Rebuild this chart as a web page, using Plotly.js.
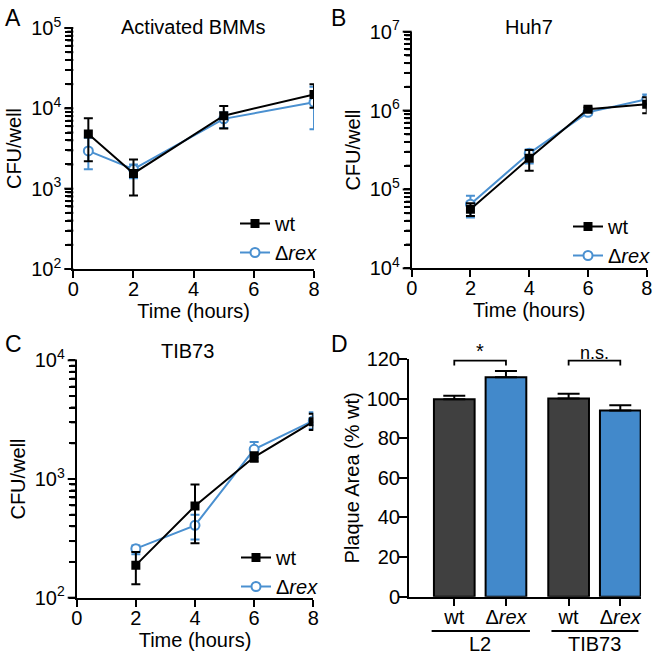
<!DOCTYPE html>
<html>
<head>
<meta charset="utf-8">
<script src="https://cdn.plot.ly/plotly-3.0.1.min.js"></script>
<style>html,body{margin:0;padding:0;background:#fff}#chart{width:656px;height:656px}</style>
</head>
<body>
<div id="chart"></div>
<script>
// ---------- DATA ----------
// Panel A: Activated BMMs
const timeA = [0.5, 2, 5, 8];
const wtA = [4800, 1550, 8100, 14900];
const wtA_hi = [7500, 2300, 10700, 20000];
const wtA_lo = [2200, 820, 5600, 10200];
const rexA = [2950, 1750, 7400, 11900];
const rexA_hi = [4300, 2000, 8900, 18500];
const rexA_lo = [1750, 1350, 5700, 5500];

// Panel B: Huh7
const timeB = [2, 4, 6, 8];
const wtB = [56000, 248000, 1040000, 1200000];
const wtB_hi = [67000, 316000, 1090000, 1470000];
const wtB_lo = [46000, 172000, 990000, 925000];
const rexB = [65000, 287000, 950000, 1390000];
const rexB_hi = [83000, 320000, 1020000, 1600000];
const rexB_lo = [44000, 213000, 880000, 1200000];

// Panel C: TIB73
const timeC = [2, 4, 6, 8];
const wtC = [188, 593, 1530, 3040];
const wtC_hi = [243, 900, 1680, 3550];
const wtC_lo = [130, 287, 1400, 2590];
const rexC = [259, 407, 1780, 3100];
const rexC_hi = [275, 500, 2050, 3650];
const rexC_lo = [232, 310, 1510, 2650];

// Panel D: Plaque area
const groupsD = ['L2', 'TIB73'];
const wtD = [99.7, 100.0];
const wtD_err = [1.8, 2.5];
const rexD = [110.8, 94.0];
const rexD_err = [3.2, 2.6];
const sigD = ['*', 'n.s.'];

const seriesNames = ['wt', 'Δ<i>rex</i>'];
const titles = ['Activated BMMs', 'Huh7', 'TIB73'];
const panelLetters = ['A', 'B', 'C', 'D'];

// ---------- STYLE ----------
const FONT = 'Liberation Sans, Arial, Helvetica, sans-serif';
const BLACK = '#000000';
const BLUE_LINE = '#4a90d0';
const GRAY_BAR = '#404040';
const BLUE_BAR = '#4289cb';
const S = 656;
const px = p => p / S;
const py = p => 1 - p / S;

function lineTraces(t, wt, wtHi, wtLo, rex, rexHi, rexLo, xa, ya, leg) {
  const up = (v, h) => h.map((x, i) => x - v[i]);
  const dn = (v, l) => l.map((x, i) => v[i] - x);
  return [
    {
      x: t, y: rex, xaxis: xa, yaxis: ya, type: 'scatter', mode: 'lines+markers',
      name: seriesNames[1], legend: leg, legendrank: 2,
      line: {color: BLUE_LINE, width: 2},
      marker: {symbol: 'circle', size: 9, color: '#ffffff', line: {color: BLUE_LINE, width: 2}},
      error_y: {type: 'data', symmetric: false, array: up(rex, rexHi), arrayminus: dn(rex, rexLo),
        color: BLUE_LINE, thickness: 2, width: 4.5}
    },
    {
      x: t, y: wt, xaxis: xa, yaxis: ya, type: 'scatter', mode: 'lines+markers',
      name: seriesNames[0], legend: leg, legendrank: 1,
      line: {color: BLACK, width: 2},
      marker: {symbol: 'square', size: 9, color: BLACK},
      error_y: {type: 'data', symmetric: false, array: up(wt, wtHi), arrayminus: dn(wt, wtLo),
        color: BLACK, thickness: 2, width: 4.5}
    }
  ];
}

const traces = [
  ...lineTraces(timeA, wtA, wtA_hi, wtA_lo, rexA, rexA_hi, rexA_lo, 'x', 'y', 'legend'),
  ...lineTraces(timeB, wtB, wtB_hi, wtB_lo, rexB, rexB_hi, rexB_lo, 'x2', 'y2', 'legend2'),
  ...lineTraces(timeC, wtC, wtC_hi, wtC_lo, rexC, rexC_hi, rexC_lo, 'x3', 'y3', 'legend3')
];

// Panel D bars (numeric positions derived from group index)
const OFF = 0.226, BW = 0.356;
const xWt = groupsD.map((g, i) => i - OFF);
const xRex = groupsD.map((g, i) => i + OFF);
traces.push({
  type: 'bar', x: xWt, y: wtD, width: BW, xaxis: 'x4', yaxis: 'y4', showlegend: false, name: 'wt',
  marker: {color: GRAY_BAR, line: {color: BLACK, width: 2}},
  error_y: {type: 'data', symmetric: false, array: wtD_err, arrayminus: wtD.map(() => 0), color: BLACK, thickness: 2, width: 11}
});
traces.push({
  type: 'bar', x: xRex, y: rexD, width: BW, xaxis: 'x4', yaxis: 'y4', showlegend: false, name: 'Δrex',
  marker: {color: BLUE_BAR, line: {color: BLACK, width: 2}},
  error_y: {type: 'data', symmetric: false, array: rexD_err, arrayminus: rexD.map(() => 0), color: BLACK, thickness: 2, width: 11}
});

const tickFont = {family: FONT, size: 20, color: BLACK};
function timeAxis(dom, anchor) {
  return {
    domain: dom, anchor: anchor, range: [0, 8], dtick: 2, tick0: 0,
    showline: true, linewidth: 2, linecolor: BLACK, showgrid: false, zeroline: false,
    ticks: 'outside', ticklen: 7, tickwidth: 2, tickcolor: BLACK, tickfont: tickFont,
    ticklabelstandoff: -6,
    title: {text: 'Time (hours)', font: {family: FONT, size: 20, color: BLACK}, standoff: 4}
  };
}
// Log-axis ticks: decades labelled 10^k, digits 2..9 unlabelled
function logTicks(r) {
  const vals = [], text = [];
  for (let k = r[0]; k <= r[1]; k++) {
    vals.push(Math.pow(10, k)); text.push('10<sup>' + k + '</sup>');
    if (k < r[1]) for (let d = 2; d <= 9; d++) { vals.push(d * Math.pow(10, k)); text.push(''); }
  }
  return {vals, text};
}
function logAxis(dom, anchor, r) {
  const t = logTicks(r);
  return {
    domain: dom, anchor: anchor, type: 'log', range: r,
    tickmode: 'array', tickvals: t.vals, ticktext: t.text,
    showline: true, linewidth: 2, linecolor: BLACK, showgrid: false, zeroline: false,
    ticks: 'outside', ticklen: 6, tickwidth: 2, tickcolor: BLACK, tickfont: tickFont,
    ticklabelstandoff: 0,
    title: {text: 'CFU/well', font: {family: FONT, size: 20, color: BLACK}, standoff: 4}
  };
}

const tickvalsD = [];
const ticktextD = [];
groupsD.forEach((g, i) => {
  tickvalsD.push(xWt[i], xRex[i]);
  ticktextD.push(seriesNames[0], seriesNames[1]);
});

const legendBase = {
  font: {family: FONT, size: 20, color: BLACK}, bgcolor: 'rgba(0,0,0,0)',
  xanchor: 'left', yanchor: 'top', tracegroupgap: 0, itemwidth: 30
};

const logRanges = [[2, 5], [4, 7], [2, 4]];
const logDomX = [[px(73.3), px(314)], [px(411.7), px(646.7)], [px(76.7), px(313.3)]];
const logDomY = [[py(269), py(28)], [py(268.3), py(31.7)], [py(597.7), py(360.3)]];

const layout = {
  width: 656, height: 656,
  margin: {l: 0, r: 0, t: 0, b: 0},
  paper_bgcolor: '#ffffff', plot_bgcolor: '#ffffff',
  font: {family: FONT, size: 20, color: BLACK},
  barmode: 'overlay',
  xaxis: timeAxis(logDomX[0], 'y'),
  yaxis: logAxis(logDomY[0], 'x', logRanges[0]),
  xaxis2: timeAxis(logDomX[1], 'y2'),
  yaxis2: logAxis(logDomY[1], 'x2', logRanges[1]),
  xaxis3: timeAxis(logDomX[2], 'y3'),
  yaxis3: logAxis(logDomY[2], 'x3', logRanges[2]),
  xaxis4: {
    domain: [px(409), px(641)], anchor: 'y4', range: [-0.622, 1.407],
    showline: true, linewidth: 2, linecolor: BLACK, showgrid: false, zeroline: false,
    tickmode: 'array', tickvals: tickvalsD, ticktext: ticktextD,
    ticks: 'outside', ticklen: 7, tickwidth: 2, tickcolor: BLACK, tickfont: tickFont,
    ticklabelstandoff: -6
  },
  yaxis4: {
    domain: [py(596.7), py(359)], anchor: 'x4', range: [0, 120], dtick: 20,
    showline: true, linewidth: 2, linecolor: BLACK, showgrid: false, zeroline: false,
    ticks: 'outside', ticklen: 8, tickwidth: 2, tickcolor: BLACK, tickfont: tickFont,
    ticklabelstandoff: -5,
    title: {text: 'Plaque Area (% wt)', font: {family: FONT, size: 20, color: BLACK}, standoff: 2}
  },
  legend: Object.assign({}, legendBase, {x: px(235), y: py(204)}),
  legend2: Object.assign({}, legendBase, {x: px(568), y: py(207)}),
  legend3: Object.assign({}, legendBase, {x: px(236), y: py(538)}),
  annotations: [],
  shapes: []
};

// Tick marks on the log axes drawn as shapes too: decades 9px, digits 2..9 6px
logRanges.forEach((r, p) => {
  const xd = logDomX[p], yd = logDomY[p];
  for (let k = r[0]; k <= r[1]; k++) {
    for (let d = 1; d <= (k < r[1] ? 9 : 1); d++) {
      const f = (Math.log10(d) + k - r[0]) / (r[1] - r[0]);
      const yp = yd[0] + f * (yd[1] - yd[0]);
      const len = d === 1 ? 9 : 6;
      layout.shapes.push({type: 'line', xref: 'paper', yref: 'paper', layer: 'above',
        x0: xd[0] - len / S, x1: xd[0], y0: yp, y1: yp, line: {color: BLACK, width: 2}});
    }
  }
});

// Panel letters
const letterPos = [[3, 3], [329, 3], [3, 329], [329, 329]];
panelLetters.forEach((L, i) => {
  layout.annotations.push({text: L, xref: 'paper', yref: 'paper', x: px(letterPos[i][0]), y: py(letterPos[i][1]),
    xanchor: 'left', yanchor: 'top', showarrow: false, font: {family: FONT, size: 23, color: BLACK}});
});
// Panel titles
const titlePos = [[193, 27], [529, 27], [188, 351]];
titles.forEach((t, i) => {
  layout.annotations.push({text: t, xref: 'paper', yref: 'paper', x: px(titlePos[i][0]), y: py(titlePos[i][1]),
    xanchor: 'center', yanchor: 'middle', showarrow: false, font: {family: FONT, size: 20, color: BLACK}});
});

// Panel D: group underlines, group labels, significance brackets
const halfLine = [0.43, 0.38];
const lineShift = [0.006, 0.004];
groupsD.forEach((g, i) => {
  layout.shapes.push({type: 'line', xref: 'x4', yref: 'paper',
    x0: i - halfLine[i] + lineShift[i], x1: i + halfLine[i] + lineShift[i], y0: py(631), y1: py(631),
    line: {color: BLACK, width: 2}});
  layout.annotations.push({text: g, xref: 'x4', yref: 'paper', x: i, y: py(643.5),
    xanchor: 'center', yanchor: 'middle', showarrow: false, font: {family: FONT, size: 20, color: BLACK}});
  // bracket
  const bx0 = xWt[i], bx1 = xRex[i];
  layout.shapes.push({type: 'path', xref: 'x4', yref: 'paper',
    path: `M${bx0},${py(365.5)} L${bx0},${py(360.7)} L${bx1},${py(360.7)} L${bx1},${py(365.5)}`,
    line: {color: BLACK, width: 1.8}});
  layout.annotations.push({text: sigD[i], xref: 'x4', yref: 'paper', x: i, y: py(i === 0 ? 351 : 352.5),
    xanchor: 'center', yanchor: 'middle', showarrow: false,
    font: {family: FONT, size: i === 0 ? 20 : 18, color: BLACK}});
});

Plotly.newPlot('chart', traces, layout, {staticPlot: true, displayModeBar: false});
</script>
</body>
</html>
